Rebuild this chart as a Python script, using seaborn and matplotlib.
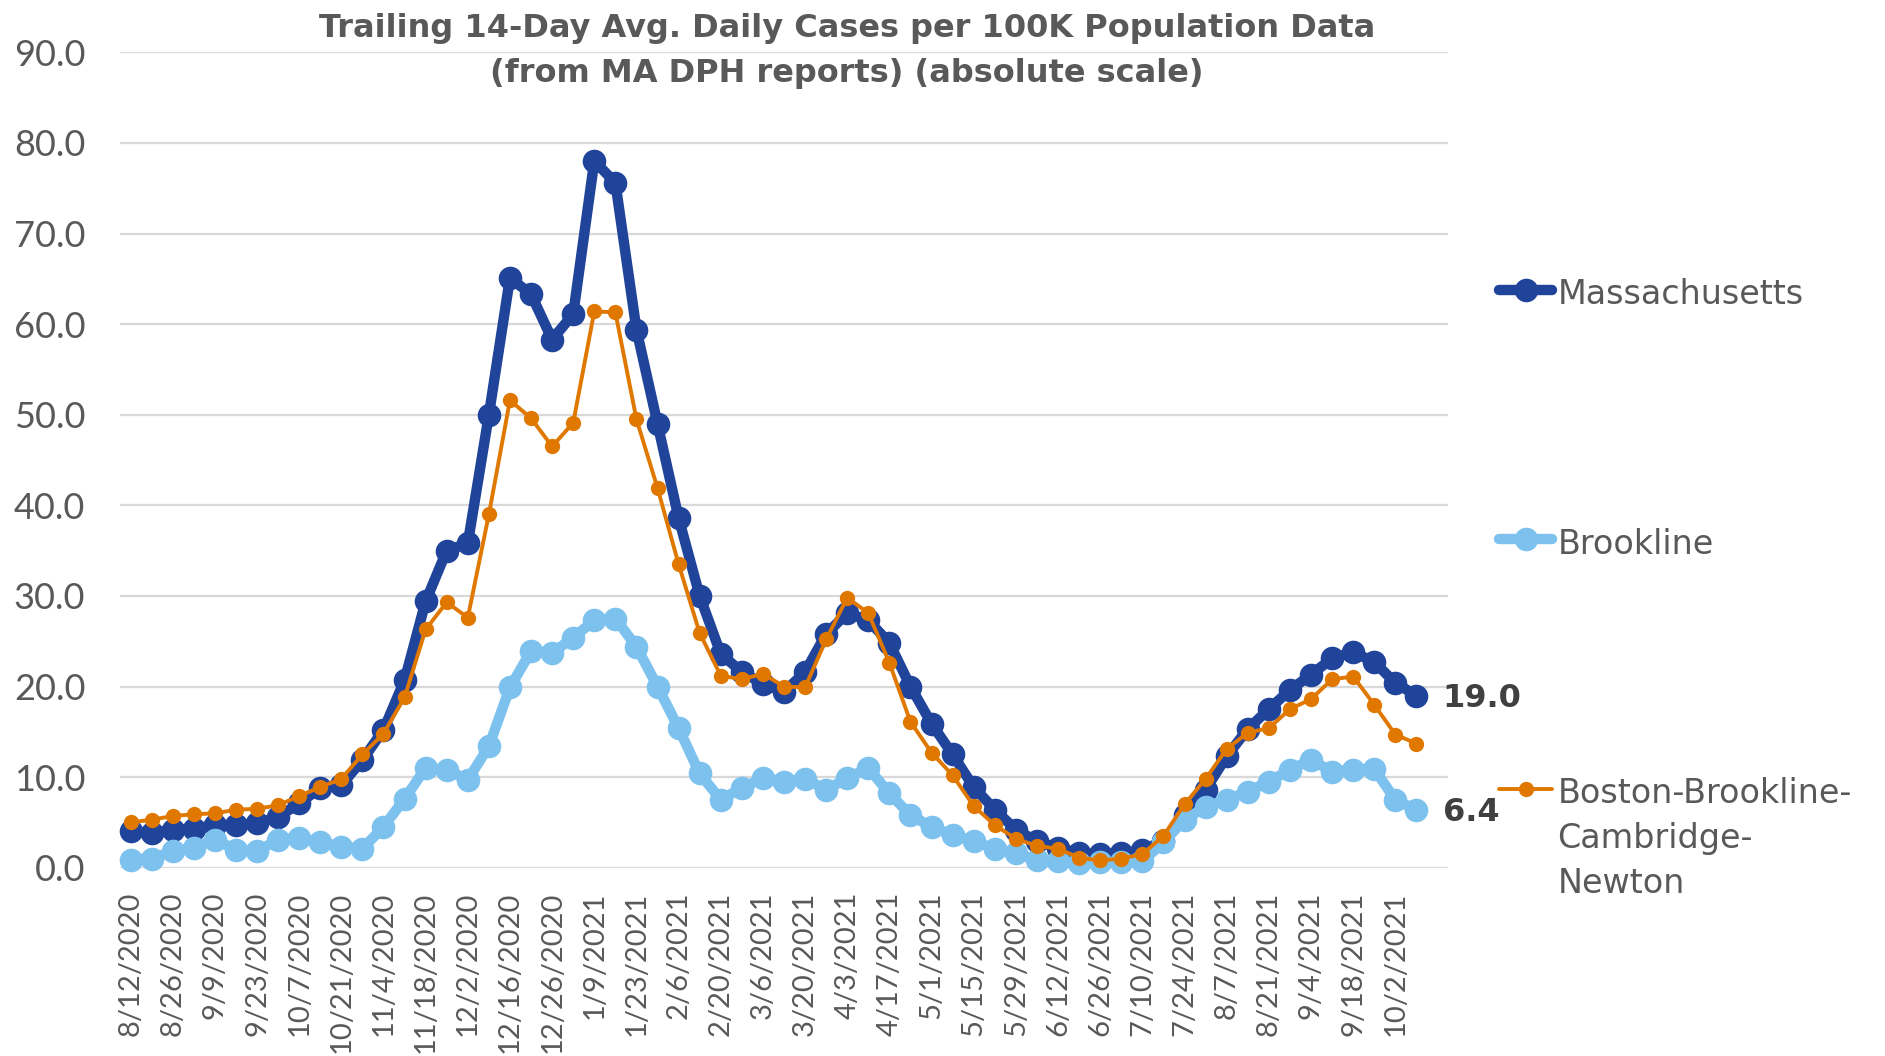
import numpy as np
import pandas as pd
import matplotlib
matplotlib.use("Agg")
import matplotlib.pyplot as plt
import seaborn as sns

dates = ["8/12/2020", "8/19/2020", "8/26/2020", "9/2/2020", "9/9/2020", "9/16/2020",
         "9/23/2020", "9/30/2020", "10/7/2020", "10/14/2020", "10/21/2020", "10/28/2020",
         "11/4/2020", "11/11/2020", "11/18/2020", "11/25/2020", "12/2/2020", "12/9/2020",
         "12/16/2020", "12/21/2020", "12/26/2020", "1/2/2021", "1/9/2021", "1/16/2021",
         "1/23/2021", "1/30/2021", "2/6/2021", "2/13/2021", "2/20/2021", "2/27/2021",
         "3/6/2021", "3/13/2021", "3/20/2021", "3/27/2021", "4/3/2021", "4/10/2021",
         "4/17/2021", "4/24/2021", "5/1/2021", "5/8/2021", "5/15/2021", "5/22/2021",
         "5/29/2021", "6/5/2021", "6/12/2021", "6/19/2021", "6/26/2021", "7/3/2021",
         "7/10/2021", "7/17/2021", "7/24/2021", "7/31/2021", "8/7/2021", "8/14/2021",
         "8/21/2021", "8/28/2021", "9/4/2021", "9/11/2021", "9/18/2021", "9/25/2021",
         "10/2/2021", "10/9/2021"]

massachusetts = [4.0, 3.8, 4.2, 4.3, 4.7, 4.7, 4.9, 5.6, 7.1, 8.8, 9.1, 11.9,
                 15.2, 20.7, 29.4, 35.0, 35.8, 50.0, 65.1, 63.3, 58.3, 61.1, 78.0, 75.6,
                 59.4, 49.0, 38.6, 30.0, 23.6, 21.6, 20.3, 19.4, 21.6, 25.8, 28.1, 27.3,
                 24.8, 20.0, 15.9, 12.5, 8.9, 6.4, 4.2, 2.9, 2.2, 1.6, 1.5, 1.6,
                 1.9, 3.0, 5.8, 8.6, 12.3, 15.3, 17.5, 19.6, 21.3, 23.1, 23.8, 22.7,
                 20.4, 19.0]

brookline = [0.9, 1.0, 1.8, 2.2, 3.1, 2.0, 1.8, 3.1, 3.3, 2.8, 2.3, 2.1,
             4.5, 7.6, 11.0, 10.8, 9.7, 13.4, 19.9, 23.9, 23.7, 25.4, 27.3, 27.5,
             24.4, 20.0, 15.4, 10.4, 7.5, 8.8, 9.9, 9.5, 9.8, 8.6, 9.9, 11.0,
             8.2, 5.8, 4.5, 3.6, 2.9, 2.1, 1.6, 0.8, 0.7, 0.5, 0.6, 0.6,
             0.7, 2.8, 5.3, 6.7, 7.5, 8.4, 9.5, 10.8, 11.9, 10.6, 10.8, 10.9,
             7.5, 6.4]

bbcn = [5.0, 5.3, 5.7, 5.9, 6.0, 6.4, 6.5, 6.9, 7.9, 8.9, 9.8, 12.5,
        14.8, 18.8, 26.3, 29.3, 27.6, 39.0, 51.6, 49.6, 46.5, 49.1, 61.4, 61.3,
        49.5, 41.9, 33.5, 25.9, 21.2, 20.8, 21.4, 20.0, 19.9, 25.2, 29.8, 28.1,
        22.6, 16.1, 12.7, 10.2, 6.8, 4.7, 3.2, 2.4, 2.1, 1.1, 0.8, 1.0,
        1.5, 3.5, 7.0, 9.8, 13.1, 14.9, 15.4, 17.5, 18.6, 20.8, 21.1, 18.0,
        14.7, 13.7]

series_names = ["Massachusetts", "Brookline", "Boston-Brookline-\nCambridge-\nNewton"]
title_text = ("Trailing 14-Day Avg. Daily Cases per 100K Population Data\n"
              "(from MA DPH reports) (absolute scale)")
y_ticks = [0, 10, 20, 30, 40, 50, 60, 70, 80, 90]

sns.set_theme(style="white")
plt.rcParams['font.family'] = ['Lato', 'DejaVu Sans']

GRAY = "#595959"
C_MA = "#21449B"
C_BR = "#7DC2EE"
C_BB = "#E07800"
WIDE = ['DejaVu Sans']

W, H = 1885, 1056
fig = plt.figure(figsize=(W / 100, H / 100), dpi=100)
ax = fig.add_axes([120 / W, 1 - 867.7 / H, (1448 - 120) / W, (867.7 - 52.3) / H])

pos = np.arange(len(dates))
df = pd.DataFrame({"pos": pos, "ma": massachusetts, "br": brookline, "bb": bbcn})

sns.lineplot(data=df, x="pos", y="ma", ax=ax, color=C_MA, linewidth=7.5,
             marker="o", markersize=17, markeredgewidth=0, label=series_names[0],
             clip_on=False, zorder=3)
sns.lineplot(data=df, x="pos", y="br", ax=ax, color=C_BR, linewidth=7.5,
             marker="o", markersize=17, markeredgewidth=0, label=series_names[1],
             clip_on=False, zorder=4)
sns.lineplot(data=df, x="pos", y="bb", ax=ax, color=C_BB, linewidth=2.8,
             marker="o", markersize=11, markeredgewidth=0, label=series_names[2],
             clip_on=False, zorder=5)

ax.set_xlim(-0.5, 62.5)
ax.set_ylim(0, 90)
ax.set_yticks(y_ticks)
ax.set_yticklabels([f"{v:.1f}" for v in y_ticks], fontsize=26, color=GRAY)
ax.set_xticks(pos[::2])
ax.set_xticklabels(dates[::2], rotation=90, fontsize=21, color=GRAY)
ax.tick_params(axis="x", length=0, pad=17)
ax.tick_params(axis="y", length=0, pad=25)
ax.set_xlabel("")
ax.set_ylabel("")
ax.grid(axis="y", color="#D9D9D9", linewidth=1.6)
ax.grid(axis="x", visible=False)
ax.set_axisbelow(True)
for s in ax.spines.values():
    s.set_visible(False)

# data labels on last points
ax.annotate(f"{massachusetts[-1]:.1f}", xy=(pos[-1], massachusetts[-1]),
            xytext=(19, -2), textcoords="offset points", va="center", ha="left",
            fontsize=23, fontweight="bold", color="#404040", family=WIDE)
ax.annotate(f"{brookline[-1]:.1f}", xy=(pos[-1], brookline[-1]),
            xytext=(19, -2), textcoords="offset points", va="center", ha="left",
            fontsize=23, fontweight="bold", color="#404040", family=WIDE)

fig.suptitle(title_text, x=847 / W, y=1 - 13 / H, va="top", ha="center",
             fontsize=23, fontweight="bold", color=GRAY, linespacing=1.6,
             family=WIDE)

handles, labels = ax.get_legend_handles_labels()
ax.get_legend().remove()
leg = fig.legend(handles, labels, loc="upper left",
                 bbox_to_anchor=(1499 / W, 1 - 278 / H), bbox_transform=fig.transFigure,
                 frameon=False, borderpad=0, borderaxespad=0, handlelength=1.6,
                 handletextpad=0.15, labelspacing=6.5,
                 prop={"family": WIDE, "size": 24})
for t in leg.get_texts():
    t.set_color(GRAY)
    t.set_linespacing(1.45)
try:
    for hp in leg._legend_handle_box.get_children()[0].get_children():
        hp.align = "top"
except Exception:
    pass

fig.savefig("out.png", dpi=100, facecolor="white")
